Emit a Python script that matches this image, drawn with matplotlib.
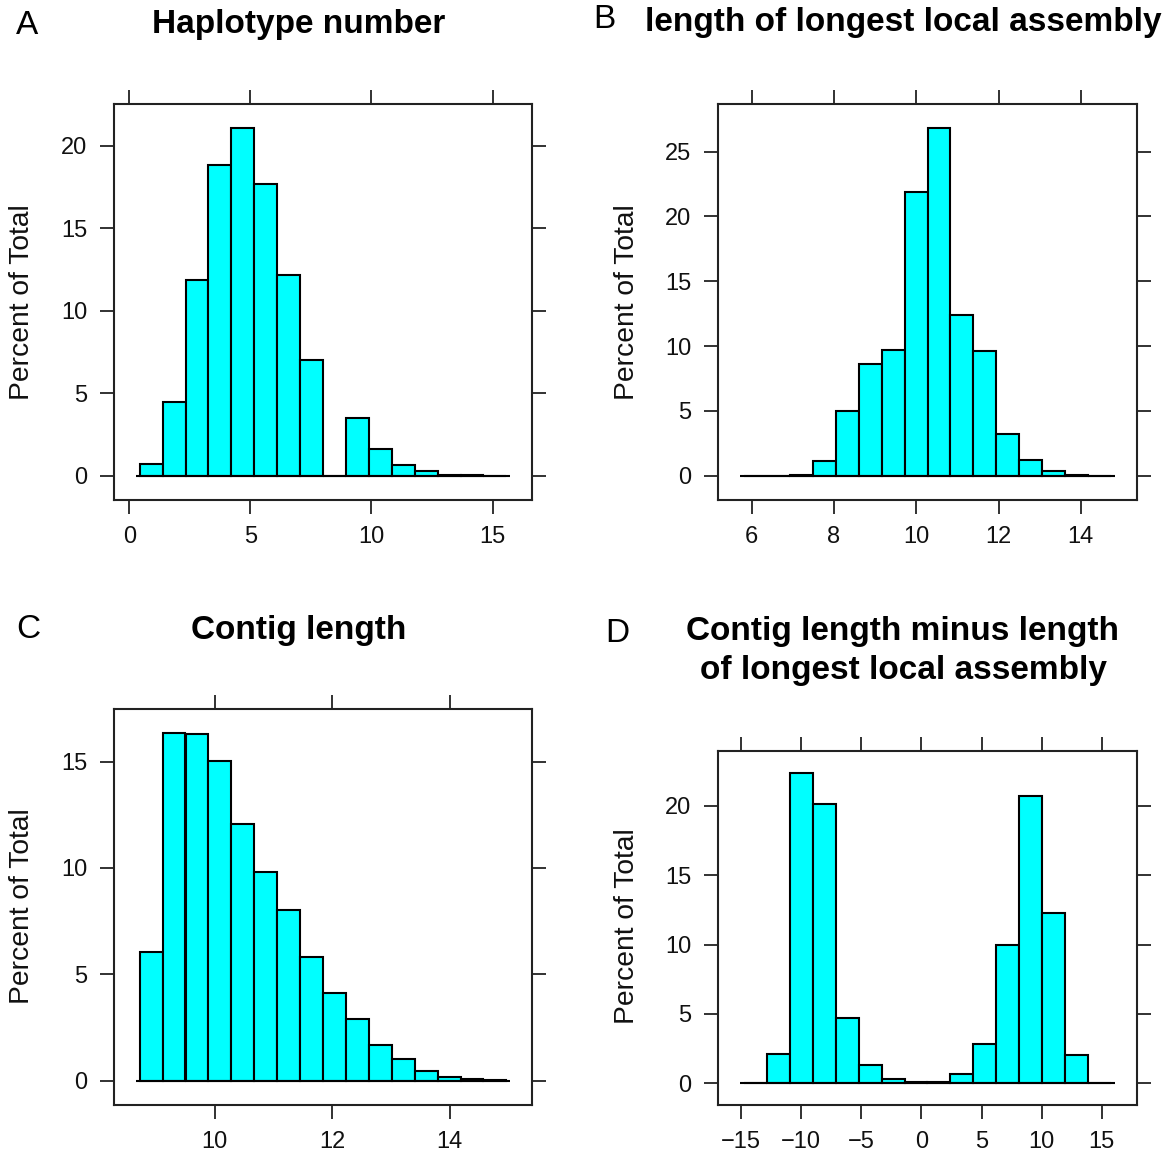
import matplotlib
matplotlib.use('Agg')
import matplotlib.pyplot as plt
import numpy as np

plt.rcParams['font.family'] = ['Liberation Sans', 'DejaVu Sans']

# ---- данные (проценты по 16 корзинам) ----
hap_edges = np.linspace(0.425, 15.57, 17)
hap_pct = [0.69, 4.47, 11.84, 18.85, 21.07, 17.71, 12.17, 7.04, 0.0,
           3.48, 1.60, 0.63, 0.28, 0.06, 0.02, 0.01]
hap_xt = [0, 5, 10, 15]
hap_yt = [0, 5, 10, 15, 20]

lla_edges = np.linspace(5.805, 14.74, 17)
lla_pct = [0.0, 0.0, 0.08, 1.13, 5.0, 8.6, 9.73, 21.9, 26.8, 12.36,
           9.6, 3.24, 1.21, 0.36, 0.05, 0.0]
lla_xt = [6, 8, 10, 12, 14]
lla_yt = [0, 5, 10, 15, 20, 25]

ctg_edges = np.linspace(8.721, 14.967, 17)
ctg_pct = [6.04, 16.33, 16.31, 15.01, 12.09, 9.82, 8.03, 5.82, 4.13,
           2.90, 1.70, 1.02, 0.45, 0.19, 0.06, 0.02]
ctg_xt = [10, 12, 14]
ctg_yt = [0, 5, 10, 15]

dif_edges = np.linspace(-14.79, 15.80, 17)
dif_pct = [0.05, 2.12, 22.38, 20.10, 4.72, 1.32, 0.31, 0.12, 0.12,
           0.65, 2.86, 9.96, 20.67, 12.30, 2.07, 0.05]
dif_xt = [-15, -10, -5, 0, 5, 10, 15]
dif_yt = [0, 5, 10, 15, 20]

W, H = 1171, 1153
fig = plt.figure(figsize=(W / 100, H / 100), dpi=100)


def px_ax(l, t, r, b):
    return fig.add_axes([l / W, 1 - b / H, (r - l) / W, (b - t) / H])


def gist(ax, edges, pct, xt, yt):
    w = np.diff(edges)
    ax.bar(edges[:-1], pct, width=w, align='edge', color='#00FFFF',
           edgecolor='black', linewidth=1.5, zorder=2)
    ext = 0.17 * w[0]
    ax.hlines(0, edges[0] - ext, edges[-1] + ext, color='black', linewidth=1.5, zorder=3)
    rng = edges[-1] - edges[0]
    ax.set_xlim(edges[0] - 0.07 * rng, edges[-1] + 0.07 * rng)
    m = max(pct)
    ax.set_ylim(-0.07 * m, 1.07 * m)
    ax.set_xticks(xt)
    ax.set_yticks(yt)
    ax.set_xticklabels([str(v).replace('-', '\u2212') for v in xt])
    ax.tick_params(direction='out', top=True, right=True, length=10, width=1.3,
                   labelsize=17, colors='#222222', labelcolor='#111111')
    ax.tick_params(axis='x', pad=9)
    ax.tick_params(axis='y', pad=9)
    for s in ax.spines.values():
        s.set_linewidth(1.5)
        s.set_color('#222222')


axA = px_ax(114, 104, 532, 500)
gist(axA, hap_edges, hap_pct, hap_xt, hap_yt)
axB = px_ax(718, 104, 1137, 500)
gist(axB, lla_edges, lla_pct, lla_xt, lla_yt)
axC = px_ax(114, 709, 532, 1105)
gist(axC, ctg_edges, ctg_pct, ctg_xt, ctg_yt)
axD = px_ax(718, 751, 1137, 1105)
gist(axD, dif_edges, dif_pct, dif_xt, dif_yt)


def ftxt(x, y, s, **kw):
    fig.text(x / W, 1 - y / H, s, **kw)


# подписи панелей
ftxt(27, 26, 'A', fontsize=24, ha='center', va='center')
ftxt(604, 19, 'B', fontsize=24, ha='center', va='center')
ftxt(28, 630, 'C', fontsize=24, ha='center', va='center')
ftxt(617, 633, 'D', fontsize=24, ha='center', va='center')

# заголовки
ftxt(299, 25, 'Haplotype number', fontsize=24, fontweight='bold', ha='center', va='center')
ftxt(903, 23, 'length of longest local assembly', fontsize=24, fontweight='bold',
     ha='center', va='center')
ftxt(299, 630, 'Contig length', fontsize=24, fontweight='bold', ha='center', va='center')
ftxt(903, 651, 'Contig length minus length\nof longest local assembly', fontsize=24,
     fontweight='bold', ha='center', va='center', linespacing=1.35)

# оси Y
for x, y in [(22, 302), (627, 302), (22, 906), (627, 926)]:
    ftxt(x, y, 'Percent of Total', fontsize=20.3, rotation=90, ha='center', va='center',
         color='#111111')

plt.savefig('out.png', dpi=100)
